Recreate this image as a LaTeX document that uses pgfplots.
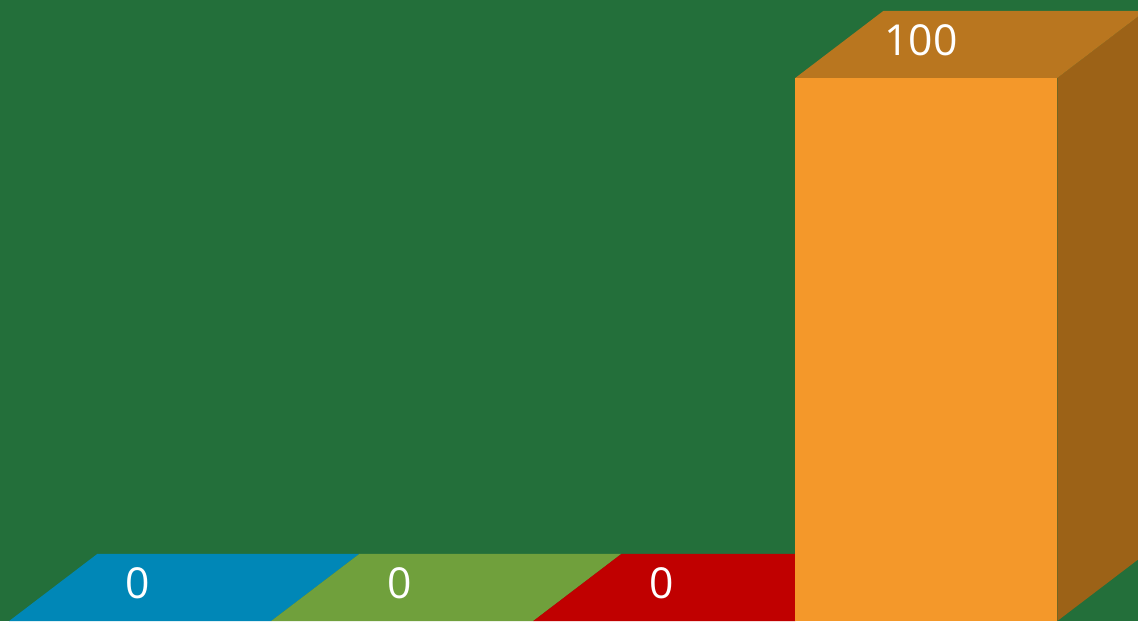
\documentclass[border=0pt]{standalone}
\usepackage{pgfplots}
\pgfplotsset{compat=1.18}
\usepackage{fontspec}
\setmainfont{Open Sans}
\definecolor{bg}{HTML}{236F3A}
\definecolor{cblue}{HTML}{0087B7}
\definecolor{cgreen}{HTML}{70A03C}
\definecolor{cred}{HTML}{C00000}
\definecolor{corange}{HTML}{F4982A}
\definecolor{corangetop}{HTML}{B9761F}
\definecolor{corangeside}{HTML}{9C6217}
\begin{document}
\begin{tikzpicture}
  \begin{axis}[
      width=853.5pt, height=465.75pt,
      scale only axis,
      axis lines=none, ticks=none,
      axis background/.style={fill=bg},
      xmin=-0.535, xmax=3.808,
      ymin=0, ymax=114.36,
      clip=true,
    ]
    % top faces of the zero bars (depth: 0.336 in x, 12.34 in y)
    \addplot[fill=cblue, draw=none] coordinates {(-0.5,0) (0.5,0) (0.836,12.34) (-0.164,12.34)} -- cycle;
    \addplot[fill=cgreen, draw=none] coordinates {(0.5,0) (1.5,0) (1.836,12.34) (0.836,12.34)} -- cycle;
    \addplot[fill=cred, draw=none] coordinates {(1.5,0) (2.5,0) (2.836,12.34) (1.836,12.34)} -- cycle;
    % orange bar: side, top, front
    \addplot[fill=corangeside, draw=none] coordinates {(3.5,0) (3.5,100) (3.836,112.34) (3.836,12.34)} -- cycle;
    \addplot[fill=corangetop, draw=none] coordinates {(2.5,100) (3.5,100) (3.836,112.34) (2.836,112.34)} -- cycle;
    \addplot[ybar, bar width=1, fill=corange, draw=none] coordinates {(3,100)};
    % value labels
    \node[text=white, font=\fontsize{32}{38}\selectfont] at (axis cs:-0.01,7) {0};
    \node[text=white, font=\fontsize{32}{38}\selectfont] at (axis cs:0.99,7) {0};
    \node[text=white, font=\fontsize{32}{38}\selectfont] at (axis cs:1.99,7) {0};
    \node[text=white, font=\fontsize{32}{38}\selectfont] at (axis cs:2.98,107) {100};
  \end{axis}
\end{tikzpicture}
\end{document}
